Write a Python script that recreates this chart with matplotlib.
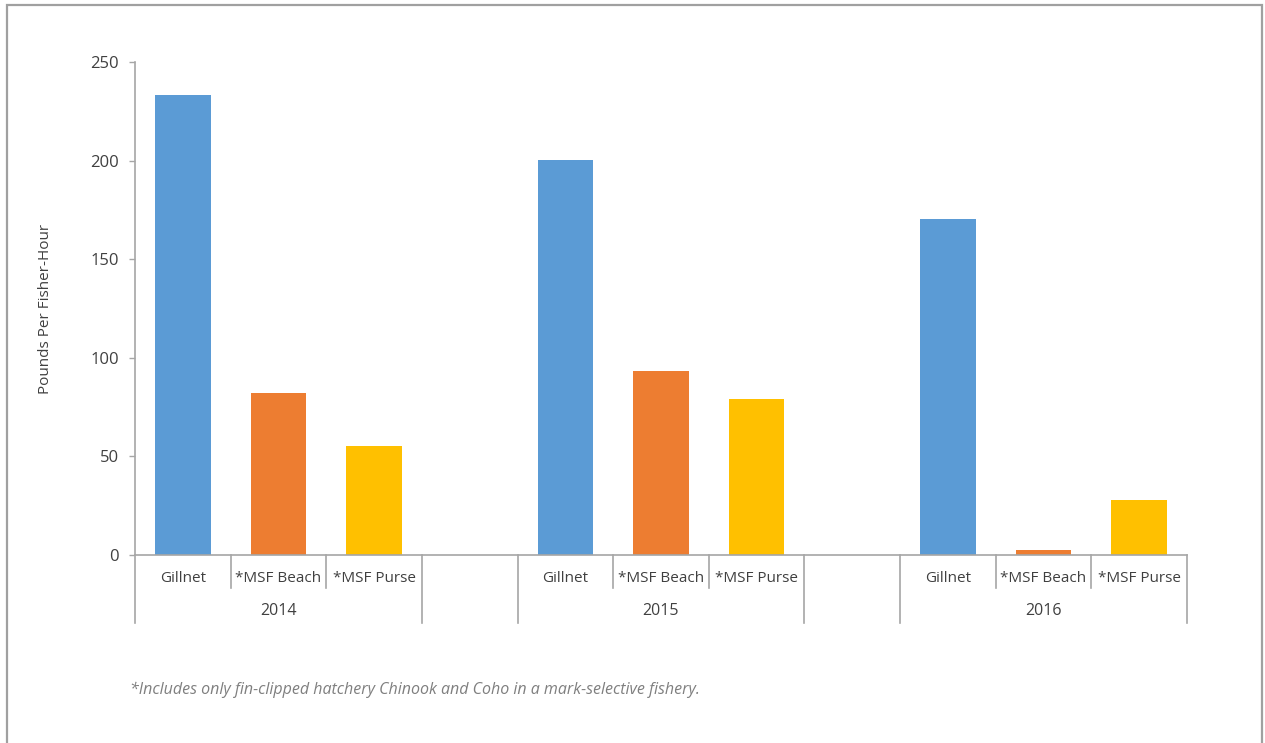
import matplotlib
matplotlib.use('Agg')
import matplotlib.pyplot as plt
import matplotlib.transforms as mtransforms
from matplotlib.patches import Rectangle

plt.rcParams['font.family'] = ['Open Sans', 'DejaVu Sans']

# data
years = ['2014', '2015', '2016']
gears = ['Gillnet', '*MSF Beach', '*MSF Purse']
values = {
    '2014': [233.3, 82.0, 55.3],
    '2015': [200.3, 93.3, 79.1],
    '2016': [170.4, 2.5, 27.9],
}
colors = ['#5B9BD5', '#ED7D31', '#FFC000']
footnote = '*Includes only fin-clipped hatchery Chinook and Coho in a mark-selective fishery.'

txt = '#404040'
axc = '#a6a6a6'

fig = plt.figure(figsize=(12.65, 7.43), dpi=100)
ax = fig.add_axes([0.1067, 0.2530, 0.8316, 0.6636])

# each year takes 3 slots, with one empty slot between years
for gi, yr in enumerate(years):
    base = gi * 4
    for k, v in enumerate(values[yr]):
        ax.bar(base + k, v, width=0.58, color=colors[k], zorder=2)

ax.set_xlim(-0.5, 10.5)
ax.set_ylim(0, 250)
ax.set_yticks([0, 50, 100, 150, 200, 250])
ax.set_xticks([])
ax.tick_params(axis='y', colors=axc, labelcolor=txt, labelsize=12, length=4.5,
               width=1, pad=7)
for s in ['top', 'right']:
    ax.spines[s].set_visible(False)
for s in ['left', 'bottom']:
    ax.spines[s].set_color(axc)
    ax.spines[s].set_linewidth(1.2)
ax.set_ylabel('Pounds Per Fisher-Hour', fontsize=11, color=txt, labelpad=27)

# two-level category axis
tr = mtransforms.blended_transform_factory(ax.transData, ax.transAxes)
y_inner, y_outer = -0.067, -0.138
for gi, yr in enumerate(years):
    base = gi * 4
    for k, g in enumerate(gears):
        ax.text(base + k, -0.047, g, transform=tr, ha='center', va='center',
                fontsize=11, color=txt)
        if k > 0:
            ax.plot([base + k - 0.5] * 2, [0, y_inner], transform=tr,
                    color=axc, lw=1.2, clip_on=False)
    ax.text(base + 1, -0.1136, yr, transform=tr, ha='center', va='center',
            fontsize=11.5, color=txt)
    for xb in (base - 0.5, base + 2.5):
        ax.plot([xb, xb], [0, y_outer], transform=tr, color=axc, lw=1.2,
                clip_on=False)

fig.text(130 / 1265, 1 - 690 / 743, footnote, fontsize=11.5, style='italic',
         color='#7f7f7f', ha='left', va='center')

# outer frame (bottom edge runs off the picture)
fig.patches.append(Rectangle((7 / 1265, -0.05), 1255 / 1265, 1.05 - 5 / 743,
                             transform=fig.transFigure, fill=False,
                             edgecolor='#a0a0a0', lw=1.6))

fig.savefig('out.png', dpi=100)
